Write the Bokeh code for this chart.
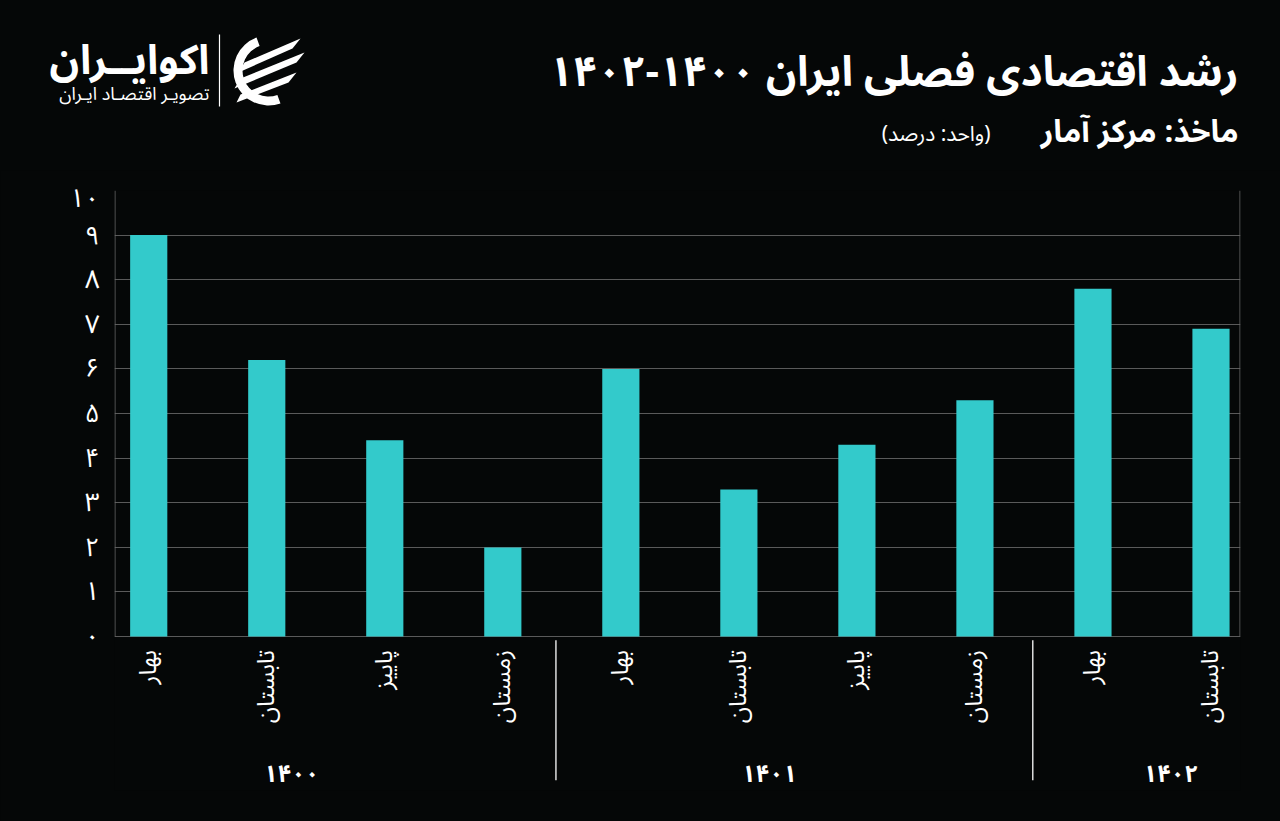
import math
from bokeh.plotting import figure
from bokeh.layouts import column
from bokeh.models import Range1d, FixedTicker, ColumnDataSource
from bokeh.core.properties import value
from bokeh.embed import file_html
from bokeh.resources import INLINE

# ---------------- data ----------------
seasons = ["بهار", "تابستان", "پاییز", "زمستان",
           "بهار", "تابستان", "پاییز", "زمستان",
           "بهار", "تابستان"]
years = ["۱۴۰۰", "۱۴۰۱", "۱۴۰۲"]
growth = [9.0, 6.2, 4.4, 2.0, 6.0, 3.3, 4.3, 5.3, 7.8, 6.9]
y_ticks = [0, 1, 2, 3, 4, 5, 6, 7, 8, 9, 10]
y_tick_labels = ["۰", "۱", "۲", "۳", "۴", "۵", "۶", "۷", "۸", "۹", "۱۰"]

title_text = "رشد اقتصادی فصلی ایران ۱۴۰۰-۱۴۰۲"
source_text = "ماخذ: مرکز آمار"
unit_text = "\u200f(واحد: درصد)\u200f"
logo_main = "اکوایــران"
logo_sub = "تصویـر اقتصـاد ایـران"

# ---------------- style ----------------
BG = "#050707"
BAR = "#33CACB"
GRID = "#5a5a5a"
FONT = "'Noto Sans Arabic', 'DejaVu Sans'"

# ---------------- header ----------------
HEAD_H = 170
h = figure(width=1280, height=HEAD_H, output_backend="svg", toolbar_location=None,
           x_range=Range1d(0, 1280), y_range=Range1d(HEAD_H, 0),
           x_axis_location=None, y_axis_location=None,
           min_border=0, min_border_left=0, min_border_right=0,
           min_border_top=0, min_border_bottom=0)
h.background_fill_color = None
h.border_fill_color = BG
h.outline_line_color = None
h.grid.visible = False

h.text(x=[1238], y=[72], text=[title_text], text_align="right", text_baseline="middle",
       text_color="white", text_font=value(FONT), text_font_size="42px",
       text_font_style="bold")
h.text(x=[1238], y=[131], text=[source_text], text_align="right", text_baseline="middle",
       text_color="white", text_font=value(FONT), text_font_size="31px",
       text_font_style="bold")
h.text(x=[990], y=[133], text=[unit_text], text_align="right", text_baseline="middle",
       text_color="white", text_font=value(FONT), text_font_size="21px")
h.text(x=[209], y=[60], text=[logo_main], text_align="right", text_baseline="middle",
       text_color="white", text_font=value(FONT), text_font_size="41px",
       text_font_style="bold")
h.text(x=[209], y=[93], text=[logo_sub], text_align="right", text_baseline="middle",
       text_color="white", text_font=value(FONT), text_font_size="18px")
# logo separator and emblem
h.segment(x0=[219], y0=[34], x1=[219], y1=[106], line_color="white", line_width=1.2)
h.annular_wedge(x=[268], y=[70], inner_radius=26, outer_radius=35,
                start_angle=math.radians(110), end_angle=math.radians(290),
                direction="anticlock", fill_color="white", line_color=None)
h.patches(xs=[[244, 300, 292, 238], [240, 304, 296, 234], [240, 296, 288, 236]],
          ys=[[62, 38, 48, 72], [78, 52, 62, 88], [94, 72, 82, 102]],
          fill_color="white", line_color=None)

# ---------------- main chart ----------------
x_start, x_end = -0.29, 9.25
y_start, y_end = -3.45, 10

p = figure(width=1280, height=821 - HEAD_H, output_backend="svg", toolbar_location=None,
           x_range=Range1d(x_start, x_end), y_range=Range1d(y_start, y_end),
           x_axis_location=None, min_border_left=114, min_border_right=40,
           min_border_top=20, min_border_bottom=31)
p.background_fill_color = None
p.border_fill_color = BG
p.outline_line_color = None
p.xgrid.grid_line_color = None
p.ygrid.grid_line_color = GRID
p.ygrid.grid_line_width = 1

for fig in (h, p):
    if "frame_align" in fig.properties():
        fig.frame_align = False

yax = p.yaxis[0]
yax.ticker = FixedTicker(ticks=y_ticks)
yax.major_label_overrides = {t: l for t, l in zip(y_ticks, y_tick_labels)}
yax.axis_line_color = None
yax.major_tick_line_color = None
yax.minor_tick_line_color = None
yax.major_label_text_color = "white"
yax.major_label_text_font = FONT
yax.major_label_text_font_size = "26px"
yax.major_label_standoff = 9

idx = list(range(len(growth)))
src = ColumnDataSource(dict(x=idx, top=growth, season=seasons))

# frame border for the value area
p.segment(x0=[x_start + 0.004, x_end - 0.004], y0=[0, 0],
          x1=[x_start + 0.004, x_end - 0.004], y1=[10, 10],
          line_color="#6a6a6a", line_width=1)

p.vbar(x="x", top="top", bottom=0, width=0.315, source=src,
       fill_color=BAR, line_color=None)

# season labels (rotated)
p.text(x="x", y=-0.3, text="season", source=src, angle=math.pi / 2,
       text_align="right", text_baseline="middle", text_color="white",
       text_font=value(FONT), text_font_size="24px")

# group separators
p.segment(x0=[3.45, 7.49], y0=[-0.08, -0.08], x1=[3.45, 7.49], y1=[-3.22, -3.22],
          line_color="#dddddd", line_width=1.5)

# group (year) labels
p.text(x=[1.21, 5.26, 8.66], y=[-3.1] * 3, text=years,
       text_align="center", text_baseline="middle", text_color="white",
       text_font=value(FONT), text_font_size="24px", text_font_style="bold")

layout = column(h, p, spacing=0)
html = file_html(layout, INLINE)
html = html.replace("</head>",
                    "<style>html,body{background:%s;margin:0;}</style></head>" % BG, 1)
open("out.html", "w").write(html)
